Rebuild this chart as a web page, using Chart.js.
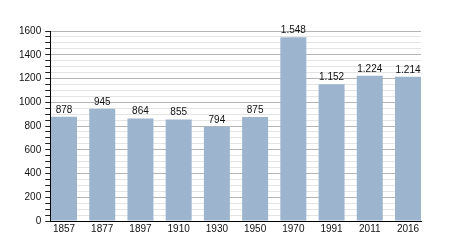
<!DOCTYPE html>
<html>
<head>
  <meta charset="UTF-8" />
  <title>Einwohnerentwicklung</title>
  <script src="https://cdn.jsdelivr.net/npm/chart.js"></script>
  <style>
    html, body { margin: 0; padding: 0; background: #fff; }
    #wrap { width: 450px; height: 250px; }
  </style>
</head>
<body>
  <div id="wrap"><canvas id="chart"></canvas></div>
  <script>
    // data
    const years = ['1857', '1877', '1897', '1910', '1930', '1950', '1970', '1991', '2011', '2016'];
    const population = [878, 945, 864, 855, 794, 875, 1548, 1152, 1224, 1214];
    const yMax = 1600;
    const yMajorStep = 200;
    const yMinorStep = 50;

    const fontFamily = "'Liberation Sans', Arial, sans-serif";

    // 1548 -> "1.548"
    const fmt = v => String(v).replace(/\B(?=(\d{3})+(?!\d))/g, '.');

    const valueLabels = {
      id: 'valueLabels',
      afterDatasetsDraw(chart) {
        const ctx = chart.ctx;
        const meta = chart.getDatasetMeta(0);
        ctx.save();
        ctx.font = '10px ' + fontFamily;
        ctx.fillStyle = '#111';
        ctx.textAlign = 'center';
        ctx.textBaseline = 'alphabetic';
        meta.data.forEach((bar, i) => {
          ctx.fillText(fmt(population[i]), bar.x, bar.y - 4);
        });
        ctx.restore();
      }
    };

    new Chart(document.getElementById('chart'), {
      type: 'bar',
      data: {
        datasets: [{
          data: population.map((v, i) => ({ x: i, y: v })),
          backgroundColor: '#9db4cf',
          borderWidth: 0,
          barPercentage: 0.68,
          categoryPercentage: 1
        }]
      },
      options: {
        responsive: true,
        maintainAspectRatio: false,
        animation: false,
        devicePixelRatio: 1,
        layout: { padding: { left: 15, right: 29, top: 31, bottom: 13 } },
        plugins: { legend: { display: false }, tooltip: { enabled: false } },
        scales: {
          x: {
            type: 'linear',
            offset: false,
            min: -0.36,
            max: 9.34,
            afterBuildTicks: axis => { axis.ticks = years.map((_, i) => ({ value: i })); },
            grid: { display: false, drawTicks: false, offset: false },
            border: { display: true, color: '#000', width: 1 },
            ticks: {
              autoSkip: false,
              maxRotation: 0,
              padding: 2,
              color: '#111',
              font: { family: fontFamily, size: 10 },
              callback: v => years[v]
            }
          },
          y: {
            min: 0,
            max: yMax,
            grid: {
              color: c => (c.tick && c.tick.value % yMajorStep === 0) ? '#b4b4b4' : '#e4e4e4',
              tickColor: '#222',
              tickLength: 5
            },
            border: { display: true, color: '#000', width: 1 },
            ticks: {
              stepSize: yMinorStep,
              autoSkip: false,
              padding: 4,
              color: '#111',
              font: { family: fontFamily, size: 10 },
              callback: v => (v % yMajorStep === 0 ? v : '')
            }
          }
        }
      },
      plugins: [valueLabels]
    });
  </script>
</body>
</html>
